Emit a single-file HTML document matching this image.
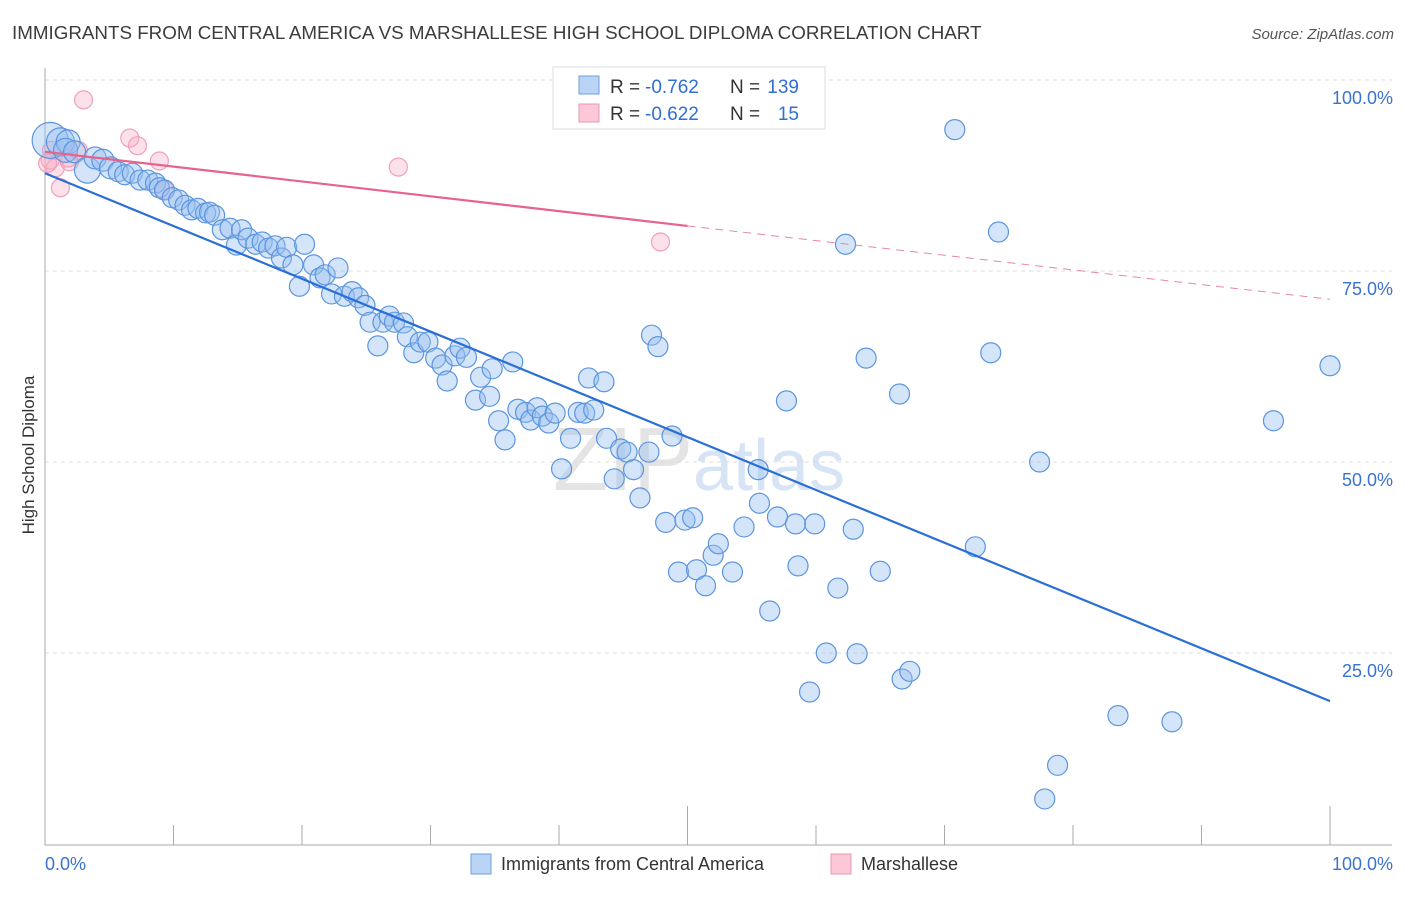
<!DOCTYPE html>
<html><head><meta charset="utf-8"><style>
body{margin:0;background:#fff;font-family:"Liberation Sans",sans-serif}
svg text{font-family:"Liberation Sans",sans-serif}
</style></head><body>
<svg id="chart" width="1406" height="892" xmlns="http://www.w3.org/2000/svg">
<text x="12" y="39" font-size="18.8" fill="#3c3c3c">IMMIGRANTS FROM CENTRAL AMERICA VS MARSHALLESE HIGH SCHOOL DIPLOMA CORRELATION CHART</text>
<text x="1394" y="39" font-size="15" fill="#555" text-anchor="end" font-style="italic">Source: ZipAtlas.com</text>
<text x="553" y="490" font-size="90" fill="#e4e4e4" font-family="Liberation Serif">ZIP<tspan fill="#d6e4f5" font-family="Liberation Sans" font-size="72">atlas</tspan></text>
<g id="grid"></g>
<g id="axes"></g>
<g id="pink"></g>
<g id="blue"></g>
<g id="lines"></g>
<text transform="translate(34,455) rotate(-90)" font-size="17" fill="#333" text-anchor="middle">High School Diploma</text>
<g>
<rect x="553" y="67" width="272" height="62" fill="#fff" stroke="#ddd"/>
<rect x="579" y="76" width="20" height="18" fill="#b9d4f5" stroke="#6f9fe0"/>
<rect x="579" y="104" width="20" height="18" fill="#fcc7d6" stroke="#e997b0"/>
<text x="610" y="93" font-size="19" fill="#333">R =</text>
<text x="645" y="93" font-size="19" fill="#2f6fd4">-0.762</text>
<text x="730" y="93" font-size="19" fill="#333">N =</text>
<text x="799" y="93" font-size="19" fill="#2f6fd4" text-anchor="end">139</text>
<text x="610" y="120" font-size="19" fill="#333">R =</text>
<text x="645" y="120" font-size="19" fill="#2f6fd4">-0.622</text>
<text x="730" y="120" font-size="19" fill="#333">N =</text>
<text x="799" y="120" font-size="19" fill="#2f6fd4" text-anchor="end">15</text>
</g>
<g>
<rect x="471" y="854" width="20" height="20" fill="#b9d4f5" stroke="#6f9fe0"/>
<text x="501" y="870" font-size="18" fill="#333">Immigrants from Central America</text>
<rect x="831" y="854" width="20" height="20" fill="#fcc7d6" stroke="#e997b0"/>
<text x="861" y="870" font-size="18" fill="#333">Marshallese</text>
</g>
</svg>
<script>
const blueX=[0.4,1.2,1.8,1.6,2.3,3.3,3.9,4.5,5.1,5.7,6.2,6.8,7.4,8.0,8.6,8.9,9.3,9.9,10.4,10.9,11.4,11.9,12.5,12.8,13.2,13.8,14.4,14.9,15.3,15.8,16.4,16.9,17.4,17.9,18.4,18.8,19.3,19.8,20.2,20.9,21.4,21.8,22.3,22.8,23.3,23.9,24.4,24.9,25.3,25.9,26.3,26.8,27.2,27.9,28.2,28.7,29.2,29.8,30.4,30.9,31.3,31.9,32.3,32.8,33.5,33.9,34.6,34.8,35.3,35.8,36.4,36.8,37.4,37.8,38.3,38.7,39.2,39.7,40.2,40.9,41.5,42.0,42.3,42.7,43.5,43.7,44.3,44.8,45.3,45.8,46.3,47.0,47.2,47.7,48.3,48.8,49.3,49.8,50.4,50.7,51.4,52.0,52.4,53.5,54.4,54.5,55.5,55.6,56.4,57.0,57.7,58.4,58.6,59.9,59.5,60.8,61.7,62.3,62.9,63.2,63.9,65.0,66.5,66.7,67.3,70.8,72.4,73.6,74.2,77.4,77.8,78.8,83.5,87.7,95.6,100];
const blueY=[92.1,91.9,91.9,90.8,90.6,88.2,89.8,89.5,88.5,88.0,87.6,87.8,86.9,86.9,86.5,85.9,85.6,84.6,84.3,83.6,83.0,83.2,82.6,82.7,82.3,80.4,80.6,78.4,80.4,79.3,78.5,78.8,78.0,78.3,76.7,78.1,75.8,73.0,78.5,75.8,74.1,74.5,72.0,75.4,71.7,72.3,71.5,70.5,68.3,65.2,68.3,69.1,68.3,68.2,66.4,64.3,65.7,65.7,63.6,62.7,60.6,63.9,64.9,63.7,58.1,61.1,58.6,62.2,55.4,52.9,63.1,56.9,56.5,55.5,57.1,56.0,55.1,56.4,49.1,53.1,56.5,56.4,61.0,56.8,60.5,53.1,47.8,51.7,51.3,49.0,45.3,51.3,66.6,65.1,42.1,53.4,35.6,42.4,42.7,35.9,33.8,37.8,39.3,35.6,41.5,100,49.0,44.6,30.5,42.8,58.0,41.9,36.4,41.9,19.9,25.0,33.5,78.5,41.2,24.9,63.6,35.7,58.9,21.6,22.6,93.5,38.9,64.3,80.1,50.0,5.9,10.3,16.8,16.0,55.4,62.6];
const blueR=[18,14,12,12,11,13,11,11,11,10,10,10,10,10,10,10,10];
const pinkX=[3.0,6.6,7.2,8.9,9.3,27.5,47.9,1.2,0.4,0.8,1.8,1.9,0.5,2.6,0.2];
const pinkY=[97.4,92.4,91.4,89.4,85.6,88.6,78.8,85.9,89.5,88.5,89.8,89.3,90.8,90.8,89.1];
const blueTrend=[0,87.8,100,18.7];
const pinkTrend=[0,90.6,50,80.9,100,71.3];
const yTicks=[25,50,75,100];
const xTicks=[0,10,20,30,40,50,60,70,80,90,100];
const NS='http://www.w3.org/2000/svg';
const sx=v=>45+v*12.85, sy=v=>844-v*7.64;
function mk(t,a,p){const e=document.createElementNS(NS,t);for(const k in a)e.setAttribute(k,a[k]);document.getElementById(p).appendChild(e);return e;}
yTicks.forEach(v=>{
 const g=mk('line',{x1:45,x2:1392,y1:sy(v),y2:sy(v),stroke:'#ddd','stroke-dasharray':'4,4'},'grid');
 
 
 const t=mk('text',{x:1393,y:sy(v)+24,'font-size':18,fill:'#3a72d0','text-anchor':'end'},'grid');
 t.textContent=v.toFixed(1)+'%';
 
 
});
mk('line',{x1:45,x2:45,y1:68,y2:845,stroke:'#aaa'},'axes');
mk('line',{x1:45,x2:1392,y1:845,y2:845,stroke:'#aaa'},'axes');
xTicks.forEach(v=>{
 const l=mk('line',{x1:sx(v),x2:sx(v),y1:845,y2:(v%50===0&&v>0)?806:825,stroke:'#aaa'},'axes');
 
 
});
[[0,'0.0%','start',45],[100,'100.0%','end',1393]].forEach(([v,s,a,x])=>{
 const t=mk('text',{x:x,y:870,'font-size':18,fill:'#3a72d0','text-anchor':a},'axes');
 t.textContent=s;
 
 
});
pinkX.forEach((x,i)=>{
 const c=mk('circle',{cx:sx(x),cy:sy(pinkY[i]),r:9,fill:'rgba(249,170,195,0.35)',stroke:'#f0a0b8','stroke-width':1.2},'pink');
 
 
});
blueX.forEach((x,i)=>{
 const c=mk('circle',{cx:sx(x),cy:sy(blueY[i]),r:blueR[i]||10,fill:'rgba(150,190,240,0.4)',stroke:'#5b95e0','stroke-width':1.2},'blue');
 
 
});
let l=mk('line',{x1:sx(blueTrend[0]),y1:sy(blueTrend[1]),x2:sx(blueTrend[2]),y2:sy(blueTrend[3]),stroke:'#2a6fd6','stroke-width':2.2},'lines');


l=mk('line',{x1:sx(pinkTrend[0]),y1:sy(pinkTrend[1]),x2:sx(pinkTrend[2]),y2:sy(pinkTrend[3]),stroke:'#e8628e','stroke-width':2.2},'lines');


l=mk('line',{x1:sx(pinkTrend[2]),y1:sy(pinkTrend[3]),x2:sx(pinkTrend[4]),y2:sy(pinkTrend[5]),stroke:'#e8889f','stroke-width':1,'stroke-dasharray':'8,6'},'lines');


</script>
</body></html>
